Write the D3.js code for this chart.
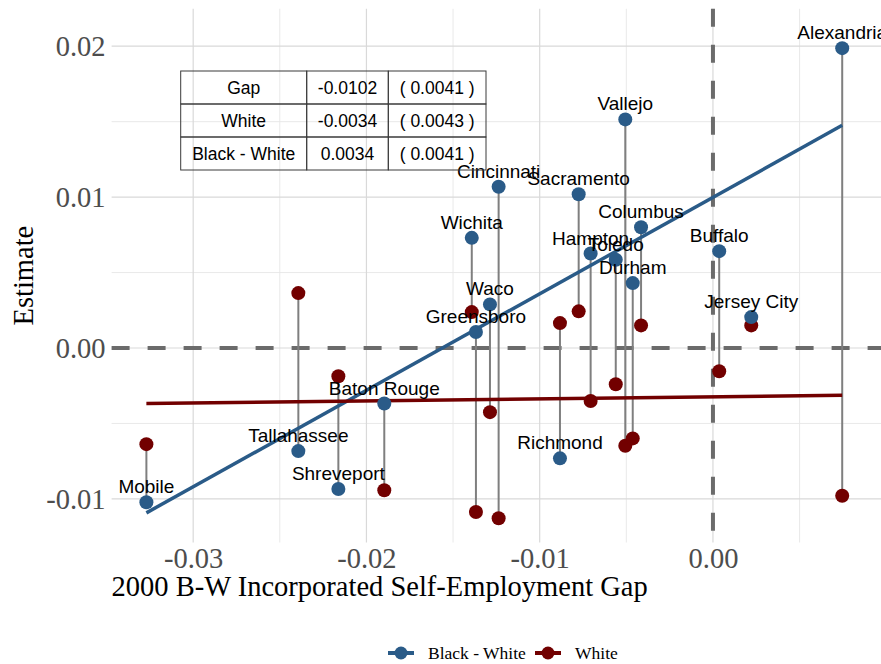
<!DOCTYPE html>
<html>
<head>
<meta charset="utf-8">
<script src="https://cdn.jsdelivr.net/npm/d3@7"></script>
<style>
body { margin: 0; background: white; }
svg { display: block; }
</style>
</head>
<body>
<svg width="881" height="664"></svg>
<script>
// city level estimates
const cities = ["Mobile", "Tallahassee", "Shreveport", "Baton Rouge", "Wichita", "Greensboro", "Waco",
    "Cincinnati", "Richmond", "Sacramento", "Hampton", "Toledo", "Vallejo", "Durham", "Columbus",
    "Buffalo", "Jersey City", "Alexandria"]
const gap_2000 = [-0.0327, -0.02393, -0.02162, -0.01897, -0.01392, -0.01368, -0.01287,
    -0.01237, -0.00883, -0.00775, -0.00706, -0.00561, -0.00506, -0.00463, -0.00415,
    0.00036, 0.00221, 0.00746]
const black_white = [-0.01022, -0.00683, -0.00934, -0.00368, 0.0073, 0.00106, 0.00289,
    0.01069, -0.00731, 0.01019, 0.00626, 0.00585, 0.01515, 0.0043, 0.008,
    0.00642, 0.00205, 0.01987]
const white = [-0.00637, 0.00364, -0.00187, -0.00943, 0.00238, -0.01087, -0.00425,
    -0.01128, 0.00165, 0.00243, -0.00351, -0.0024, -0.00648, -0.00599, 0.0015,
    -0.00154, 0.0015, -0.00979]

// regression table
const table_rows = ["Gap", "White", "Black - White"]
const table_est = [-0.0102, -0.0034, 0.0034]
const table_se = [0.0041, 0.0043, 0.0041]

const x_ticks = [-0.03, -0.02, -0.01, 0.00]
const x_minor = [-0.025, -0.015, -0.005, 0.005]
const y_ticks = [-0.01, 0.00, 0.01, 0.02]
const y_minor = [-0.005, 0.005, 0.015]

const series_names = ["Black - White", "White"]
const series_colors = ["#2a5b88", "#720000"]

const label_nudge = 0.001
const panel = {left: 111.6, right: 877, top: 8.8, bottom: 542.5}
const point_r = 7
const serif = "'Liberation Serif', 'Times New Roman', serif"
const sans = "'Liberation Sans', Arial, Helvetica, sans-serif"

const fmt = v => v.toFixed(2)

function expand(extent, mult) {
    const pad = (extent[1] - extent[0]) * mult
    return [extent[0] - pad, extent[1] + pad]
}

function fit_line(xs, ys) {
    const mx = d3.mean(xs), my = d3.mean(ys)
    const slope = d3.sum(xs, (x, i) => (x - mx) * (ys[i] - my)) / d3.sum(xs, x => (x - mx) * (x - mx))
    return x => my + slope * (x - mx)
}

const data = cities.map((c, i) => ({city: c, x: gap_2000[i], bw: black_white[i], w: white[i]}))

const x = d3.scaleLinear()
    .domain(expand(d3.extent(gap_2000), 0.05))
    .range([panel.left, panel.right])

const y_all = white.concat(black_white.map(v => v + label_nudge))
const y = d3.scaleLinear()
    .domain(expand(d3.extent(y_all), 0.05))
    .range([panel.bottom, panel.top])

const svg = d3.select("svg")

// grid
const grid = svg.append("g")
grid.selectAll(".ymin").data(y_minor).enter().append("line")
    .attr("x1", panel.left).attr("x2", 881)
    .attr("y1", d => y(d)).attr("y2", d => y(d))
    .attr("stroke", "#e6e6e6").attr("stroke-width", 0.9)
grid.selectAll(".xmin").data(x_minor).enter().append("line")
    .attr("x1", d => x(d)).attr("x2", d => x(d))
    .attr("y1", panel.top).attr("y2", panel.bottom)
    .attr("stroke", "#e6e6e6").attr("stroke-width", 0.9)
grid.selectAll(".ymaj").data(y_ticks).enter().append("line")
    .attr("x1", panel.left).attr("x2", 881)
    .attr("y1", d => y(d)).attr("y2", d => y(d))
    .attr("stroke", "#d9d9d9").attr("stroke-width", 1.2)
grid.selectAll(".xmaj").data(x_ticks).enter().append("line")
    .attr("x1", d => x(d)).attr("x2", d => x(d))
    .attr("y1", panel.top).attr("y2", panel.bottom)
    .attr("stroke", "#d9d9d9").attr("stroke-width", 1.2)

// zero reference lines
svg.append("line")
    .attr("x1", panel.left).attr("x2", 881)
    .attr("y1", y(0)).attr("y2", y(0))
    .attr("stroke", "#6b6b6b").attr("stroke-width", 4)
    .attr("stroke-dasharray", "18,18")
svg.append("line")
    .attr("x1", x(0)).attr("x2", x(0))
    .attr("y1", panel.top).attr("y2", panel.bottom)
    .attr("stroke", "#6b6b6b").attr("stroke-width", 4)
    .attr("stroke-dasharray", "18,18")

// axes
const x_axis = svg.append("g")
    .attr("transform", `translate(0,${panel.bottom})`)
    .call(d3.axisBottom(x).tickValues(x_ticks).tickFormat(fmt).tickSize(0).tickPadding(5.5))
const y_axis = svg.append("g")
    .attr("transform", `translate(${panel.left},0)`)
    .call(d3.axisLeft(y).tickValues(y_ticks).tickFormat(fmt).tickSize(0).tickPadding(6))
for (const ax of [x_axis, y_axis]) {
    ax.select(".domain").remove()
    ax.selectAll("text")
        .attr("fill", "#4d4d4d")
        .style("font-family", serif)
        .style("font-size", "28.5px")
}

svg.append("text")
    .attr("x", panel.left)
    .attr("y", 596)
    .text("2000 B-W Incorporated Self-Employment Gap")
    .style("font-family", serif)
    .style("font-size", "28.5px")
svg.append("text")
    .attr("transform", `translate(33,${(panel.top + panel.bottom) / 2}) rotate(-90)`)
    .attr("text-anchor", "middle")
    .text("Estimate")
    .style("font-family", serif)
    .style("font-size", "28.5px")

// stems between the two estimates
svg.append("g").selectAll("line")
    .data(data)
    .enter()
    .append("line")
    .attr("x1", d => x(d.x)).attr("x2", d => x(d.x))
    .attr("y1", d => y(d.bw)).attr("y2", d => y(d.w))
    .attr("stroke", "#7f7f7f")
    .attr("stroke-width", 2)

// fitted lines
const x_ends = d3.extent(gap_2000)
const fits = [fit_line(gap_2000, black_white), fit_line(gap_2000, white)]
svg.append("g").selectAll("line")
    .data(fits)
    .enter()
    .append("line")
    .attr("x1", x(x_ends[0])).attr("x2", x(x_ends[1]))
    .attr("y1", f => y(f(x_ends[0]))).attr("y2", f => y(f(x_ends[1])))
    .attr("stroke", (f, i) => series_colors[i])
    .attr("stroke-width", 3.5)

// points
svg.append("g").selectAll("circle")
    .data(data)
    .enter()
    .append("circle")
    .attr("cx", d => x(d.x)).attr("cy", d => y(d.w))
    .attr("r", point_r)
    .attr("fill", series_colors[1])
svg.append("g").selectAll("circle")
    .data(data)
    .enter()
    .append("circle")
    .attr("cx", d => x(d.x)).attr("cy", d => y(d.bw))
    .attr("r", point_r)
    .attr("fill", series_colors[0])

// city labels
svg.append("g").selectAll("text")
    .data(data)
    .enter()
    .append("text")
    .attr("x", d => x(d.x))
    .attr("y", d => y(d.bw + label_nudge))
    .attr("dy", "0.32em")
    .attr("text-anchor", "middle")
    .text(d => d.city)
    .style("font-family", sans)
    .style("font-size", "19px")

// estimates table
const col_edges = [180.7, 306.7, 388.3, 486]
const row_top = 71, row_h = 33
const table = svg.append("g")
table_rows.forEach((name, i) => {
    const cells = [name, table_est[i].toFixed(4), `( ${table_se[i].toFixed(4)} )`]
    cells.forEach((txt, j) => {
        table.append("rect")
            .attr("x", col_edges[j]).attr("y", row_top + i * row_h)
            .attr("width", col_edges[j + 1] - col_edges[j]).attr("height", row_h)
            .attr("fill", "none")
            .attr("stroke", "#3a3a3a")
            .attr("stroke-width", 1)
        table.append("text")
            .attr("x", (col_edges[j] + col_edges[j + 1]) / 2)
            .attr("y", row_top + i * row_h + row_h / 2 + 6.5)
            .attr("text-anchor", "middle")
            .text(txt)
            .style("font-family", sans)
            .style("font-size", "17.5px")
    })
})

// legend
const legend_x = [388, 535]
const legend = svg.append("g")
series_names.forEach((name, i) => {
    const lx = legend_x[i]
    legend.append("line")
        .attr("x1", lx).attr("x2", lx + 26)
        .attr("y1", 653).attr("y2", 653)
        .attr("stroke", series_colors[i])
        .attr("stroke-width", 4)
    legend.append("circle")
        .attr("cx", lx + 13).attr("cy", 653)
        .attr("r", 6.5)
        .attr("fill", series_colors[i])
    legend.append("text")
        .attr("x", lx + 40).attr("y", 659)
        .text(name)
        .style("font-family", serif)
        .style("font-size", "17.5px")
})
</script>
</body>
</html>
